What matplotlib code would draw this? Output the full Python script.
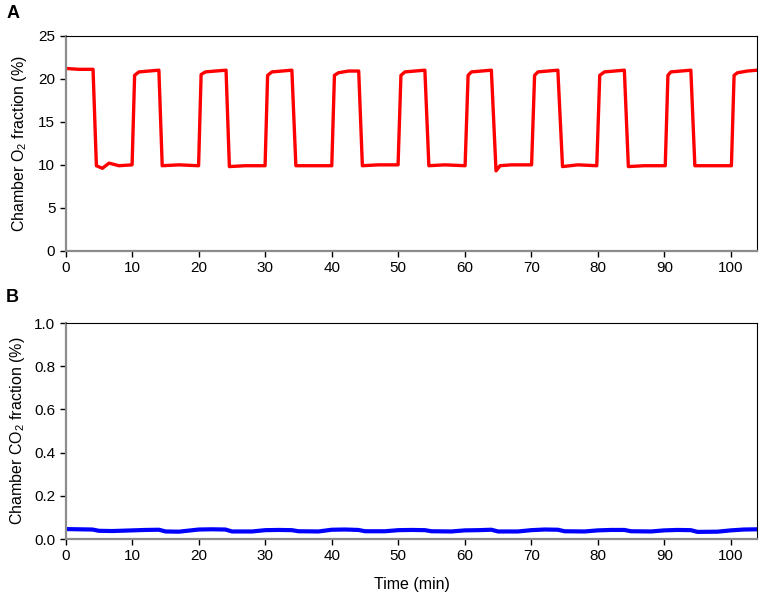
import matplotlib
matplotlib.use("Agg")
import matplotlib.pyplot as plt

plt.rcParams['font.family'] = ['Liberation Sans', 'DejaVu Sans']
plt.rcParams['mathtext.default'] = 'regular'

# O2 trace breakpoints (min, %)
o2_time = [0, 2, 4.1, 4.6, 5.5, 6.5, 8.0, 9.97,
           10.35, 11.0, 12.5, 14.0, 14.5, 17.0, 19.97,
           20.35, 21.0, 22.5, 24.1, 24.6, 27.0, 29.97,
           30.35, 31.0, 32.5, 34.0, 34.6, 37.0, 40.0,
           40.4, 41.0, 42.5, 44.05, 44.6, 47.0, 49.97,
           50.4, 51.0, 52.5, 54.0, 54.6, 57.0, 60.05,
           60.5, 61.0, 62.5, 64.0, 64.7, 65.3, 67.0, 70.05,
           70.5, 71.0, 72.5, 74.0, 74.7, 77.0, 79.85,
           80.3, 81.0, 82.5, 84.0, 84.6, 87.0, 90.15,
           90.55, 91.0, 92.5, 94.0, 94.6, 97.0, 100.1,
           100.5, 101.0, 102.5, 104.0]
o2_value = [21.2, 21.1, 21.1, 9.9, 9.6, 10.2, 9.9, 10.0,
            20.4, 20.8, 20.9, 21.0, 9.9, 10.0, 9.9,
            20.5, 20.8, 20.9, 21.0, 9.8, 9.9, 9.9,
            20.4, 20.8, 20.9, 21.0, 9.9, 9.9, 9.9,
            20.4, 20.7, 20.9, 20.9, 9.9, 10.0, 10.0,
            20.4, 20.8, 20.9, 21.0, 9.9, 10.0, 9.9,
            20.4, 20.8, 20.9, 21.0, 9.3, 9.9, 10.0, 10.0,
            20.4, 20.8, 20.9, 21.0, 9.8, 10.0, 9.9,
            20.4, 20.8, 20.9, 21.0, 9.8, 9.9, 9.9,
            20.4, 20.8, 20.9, 21.0, 9.9, 9.9, 9.9,
            20.4, 20.7, 20.9, 21.0]

# CO2 trace (min, %)
co2_time = [0, 2, 4, 5, 7, 10, 12, 14, 15, 17, 20, 22, 24, 25, 28,
            30, 32, 34, 35, 38, 40, 42, 44, 45, 48, 50, 52, 54, 55, 58,
            60, 62, 64, 65, 68, 70, 72, 74, 75, 78, 80, 82, 84, 85, 88,
            90, 92, 94, 95, 98, 100, 102, 104]
co2_value = [0.046, 0.045, 0.044, 0.038, 0.037, 0.040, 0.042, 0.043, 0.035, 0.034,
             0.044, 0.045, 0.044, 0.035, 0.035,
             0.041, 0.042, 0.041, 0.036, 0.035, 0.043, 0.044, 0.042, 0.036, 0.036,
             0.041, 0.042, 0.041, 0.036, 0.035, 0.040, 0.041, 0.043, 0.035, 0.035,
             0.041, 0.044, 0.043, 0.036, 0.035, 0.040, 0.042, 0.042, 0.036, 0.035,
             0.040, 0.042, 0.041, 0.033, 0.034, 0.040, 0.044, 0.045]

x_ticks = [0, 10, 20, 30, 40, 50, 60, 70, 80, 90, 100]
o2_ticks = [0, 5, 10, 15, 20, 25]
co2_ticks = [0.0, 0.2, 0.4, 0.6, 0.8, 1.0]

fig = plt.figure(figsize=(7.65, 5.96), dpi=100)
ax1 = fig.add_axes([0.086, 0.579, 0.904, 0.361])
ax2 = fig.add_axes([0.086, 0.0956, 0.904, 0.3624])


def style(ax):
    for side in ['top', 'right']:
        ax.spines[side].set_color('black')
        ax.spines[side].set_linewidth(0.8)
    for side in ['left', 'bottom']:
        ax.spines[side].set_color('#8c8c8c')
        ax.spines[side].set_linewidth(1.6)
    ax.tick_params(direction='out', length=4.5, width=1, color='black',
                   labelsize=11, pad=3)
    ax.set_xlim(0, 104)
    ax.set_xticks(x_ticks)


ax1.plot(o2_time, o2_value, color='#ff0000', linewidth=2.4)
style(ax1)
ax1.set_ylim(0, 25)
ax1.set_yticks(o2_ticks)
ax1.set_ylabel('Chamber O$_2$ fraction (%)', fontsize=11.5, labelpad=7)

ax2.plot(co2_time, co2_value, color='#0000ff', linewidth=3)
style(ax2)
ax2.set_ylim(0, 1.0)
ax2.set_yticks(co2_ticks)
ax2.set_yticklabels([f'{v:.1f}' for v in co2_ticks])
ax2.set_ylabel('Chamber CO$_2$ fraction (%)', fontsize=11.5, labelpad=5)
ax2.set_xlabel('Time (min)', fontsize=11.5, labelpad=10)

fig.text(0.008, 0.978, 'A', fontsize=13, fontweight='bold', va='center')
fig.text(0.008, 0.500, 'B', fontsize=13, fontweight='bold', va='center')

fig.savefig('out.png', dpi=100)
